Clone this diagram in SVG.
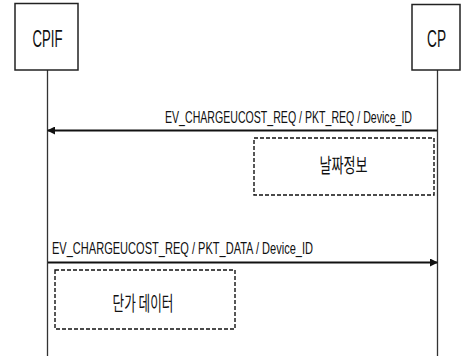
<svg xmlns="http://www.w3.org/2000/svg" width="464" height="363" viewBox="0 0 464 363">
<style>
.box{fill:#fff;stroke:#222;stroke-width:1.5}
.life{stroke:#333;stroke-width:1.3;fill:none}
.msg{stroke:#111;stroke-width:2;fill:none}
.note{fill:none;stroke:#111;stroke-width:1.4;stroke-dasharray:4 2}
.t{font-family:"Liberation Sans","Noto Sans CJK KR",sans-serif;fill:#111}
.k{font-family:"Noto Sans CJK KR","Liberation Sans",sans-serif;fill:#111}
</style>
<defs>
<marker id="ah" markerWidth="8" markerHeight="8" refX="7" refY="4" orient="auto" markerUnits="userSpaceOnUse">
<path d="M0,0 L8,4 L0,8 Z" fill="#111"/>
</marker>
</defs>
<g id="connectors">
<line class="life" x1="47.5" y1="70" x2="47.5" y2="356"/>
<line class="life" x1="437.5" y1="70" x2="437.5" y2="356"/>
<line class="msg" x1="437" y1="130.5" x2="48" y2="130.5" marker-end="url(#ah)"/>
<line class="msg" x1="48" y1="262.5" x2="437" y2="262.5" marker-end="url(#ah)"/>
<text class="t" x="412" y="122.5" font-size="17" text-anchor="end" textLength="247" lengthAdjust="spacingAndGlyphs">EV_CHARGEUCOST_REQ / PKT_REQ / Device_ID</text>
<text class="t" x="52" y="253.5" font-size="17" textLength="261" lengthAdjust="spacingAndGlyphs">EV_CHARGEUCOST_REQ / PKT_DATA / Device_ID</text>
</g>
<g id="cpif">
<rect class="box" x="15" y="3.5" width="63" height="66.5"/>
<text class="t" x="32.5" y="46.5" font-size="24" textLength="30" lengthAdjust="spacingAndGlyphs">CPIF</text>
</g>
<g id="cp">
<rect class="box" x="412" y="4.5" width="48" height="65.5"/>
<text class="t" x="427" y="46.5" font-size="24" textLength="19" lengthAdjust="spacingAndGlyphs">CP</text>
</g>
<g id="note1">
<rect class="note" x="254" y="138" width="180" height="57"/>
<text class="k" x="319.5" y="173" font-size="20" textLength="48" lengthAdjust="spacingAndGlyphs">날짜정보</text>
</g>
<g id="note2">
<rect class="note" x="55" y="270" width="180" height="59"/>
<text class="k" x="112.5" y="311" font-size="20" textLength="61" lengthAdjust="spacingAndGlyphs">단가 데이터</text>
</g>
</svg>
